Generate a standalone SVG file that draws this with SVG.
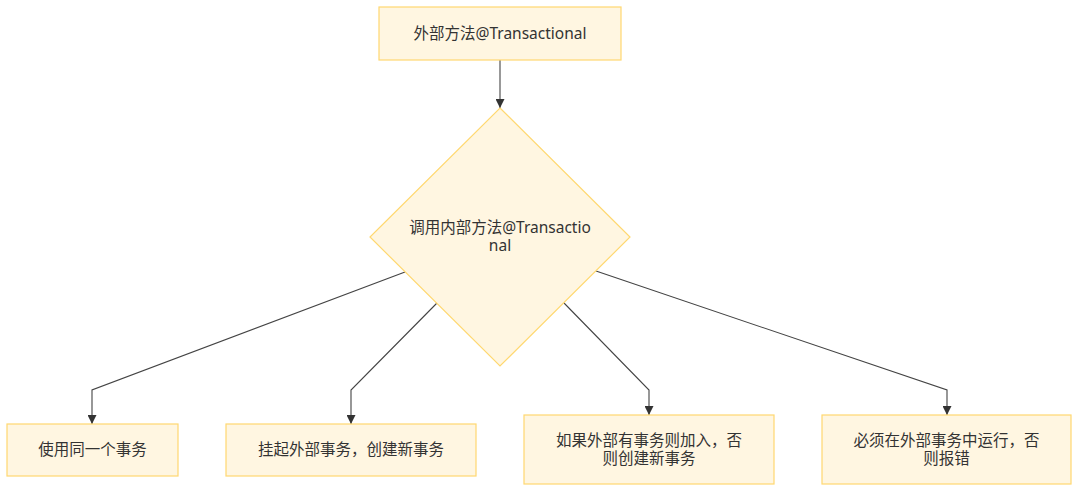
<svg xmlns="http://www.w3.org/2000/svg" width="1080" height="492" viewBox="0 0 1080 492">
<style>
.node{fill:#fff6e1;stroke:#ffd870;stroke-width:1.2}
.lbl{font-family:"Noto Sans","Noto Sans CJK SC",sans-serif;font-size:15.5px;fill:#333;text-anchor:middle}
.edge{fill:none;stroke:#444;stroke-width:1.1}
</style>
<defs>
<marker id="arr" viewBox="0 0 10 10" refX="10" refY="5" markerWidth="9" markerHeight="9" markerUnits="userSpaceOnUse" orient="auto">
<path d="M0,0 L10,5 L0,10 Z" fill="#333"/>
</marker>
</defs>
<rect width="1080" height="492" fill="#fff"/>
<g id="edges">
<path class="edge" d="M500,60 L500,108" marker-end="url(#arr)"/>
<path class="edge" d="M405,272 L92,390 L92,424" marker-end="url(#arr)"/>
<path class="edge" d="M437,303 L351,390 L351,424" marker-end="url(#arr)"/>
<path class="edge" d="M564,303 L649,390 L649,415" marker-end="url(#arr)"/>
<path class="edge" d="M596,271 L947,390 L947,415" marker-end="url(#arr)"/>
</g>
<g id="outer">
<rect class="node" x="379" y="7" width="242" height="53"/>
<text class="lbl" x="500" y="38.5">外部方法@Transactional</text>
</g>
<g id="inner">
<polygon class="node" points="500,108 630,237 500,366 370,237"/>
<text class="lbl" x="500" y="232.5"><tspan x="500">调用内部方法@Transactio</tspan><tspan x="500" dy="18">nal</tspan></text>
</g>
<g id="same">
<rect class="node" x="7" y="424" width="171" height="52"/>
<text class="lbl" x="92.5" y="455">使用同一个事务</text>
</g>
<g id="requiresNew">
<rect class="node" x="226" y="424" width="250" height="52"/>
<text class="lbl" x="351" y="455">挂起外部事务，创建新事务</text>
</g>
<g id="required">
<rect class="node" x="524" y="415" width="250" height="69"/>
<text class="lbl" x="649" y="445.5"><tspan x="649">如果外部有事务则加入，否</tspan><tspan x="649" dy="18">则创建新事务</tspan></text>
</g>
<g id="mandatory">
<rect class="node" x="822" y="415" width="249" height="69"/>
<text class="lbl" x="946.5" y="445.5"><tspan x="946.5">必须在外部事务中运行，否</tspan><tspan x="946.5" dy="18">则报错</tspan></text>
</g>
</svg>
